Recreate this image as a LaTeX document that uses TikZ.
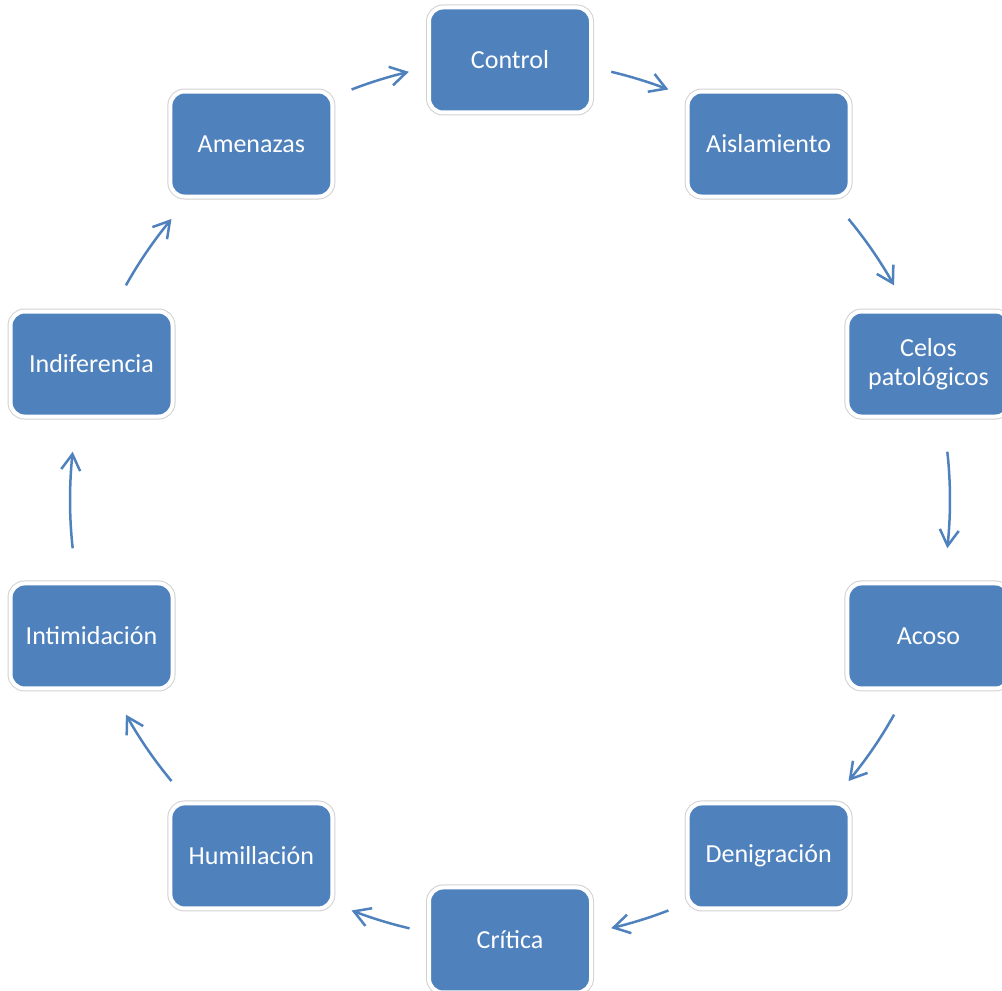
\documentclass[tikz,border=0pt]{standalone}
\usepackage{fontspec}
\setmainfont{Carlito}
\usetikzlibrary{arrows.meta,bending,calc}
\definecolor{boxblue}{RGB}{79,129,189}
\definecolor{arrblue}{RGB}{79,129,189}
\begin{document}
\begin{tikzpicture}[x=1pt,y=1pt,
  box/.style={rectangle, rounded corners=14pt, minimum width=162pt, minimum height=105pt,
    inner sep=0pt, fill=boxblue, draw=white, line width=4pt,
    preaction={draw=black!18, line width=6pt},
    text=white, font=\fontsize{26}{29}\selectfont, align=center},
  arr/.style={draw=arrblue, line width=2.5pt, -{Straight Barb[length=16pt,width=19pt,flex]}}]
\useasboundingbox (0,0) rectangle (1002,991);
\coordinate (O) at (510,491);
\node[box] (control) at ($(O)+(90:440)$) {Control};
\node[box] (aislamiento) at ($(O)+(54:440)$) {Aislamiento};
\node[box] (celos) at ($(O)+(18:440)$) {Celos\\patológicos};
\node[box] (acoso) at ($(O)+(-18:440)$) {Acoso};
\node[box] (denigracion) at ($(O)+(-54:440)$) {Denigración};
\node[box] (critica) at ($(O)+(-90:440)$) {Crítica};
\node[box] (humillacion) at ($(O)+(-126:440)$) {Humillación};
\node[box] (intimidacion) at ($(O)+(-162:440)$) {Intimidación};
\node[box] (indiferencia) at ($(O)+(162:440)$) {Indiferencia};
\node[box] (amenazas) at ($(O)+(126:440)$) {Amenazas};
\foreach \a/\b [count=\i] in {76.7/68.9, 39.7/29.2, 6.3/-6.3, -29.2/-39.7, -68.9/-76.7, -103.2/-111.1, -140.3/-150.8, 186.3/173.7, 150.8/140.3, 111.1/103.3} {
  \coordinate (s\i) at ($(O)+(\a:440)$);
  \draw[arr] (s\i) arc[start angle=\a, end angle=\b, radius=440];
}
\end{tikzpicture}
\end{document}
